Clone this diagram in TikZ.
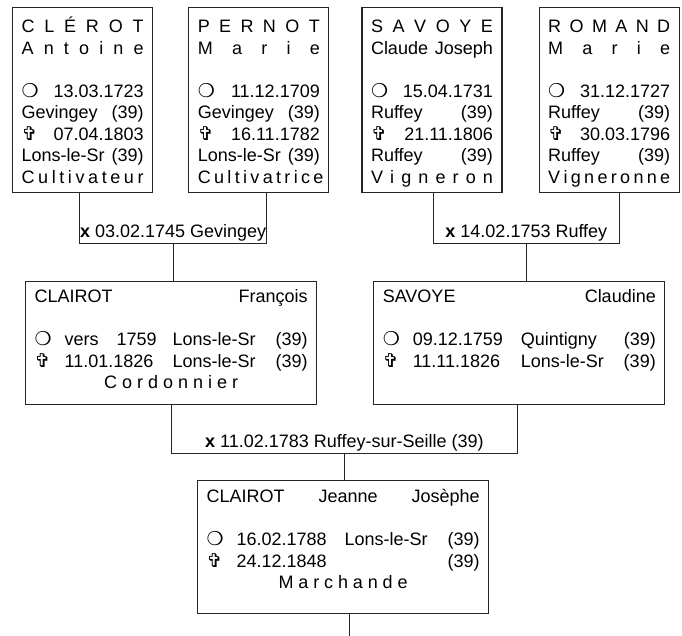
\documentclass[tikz,border=0pt]{standalone}
\usepackage{fontspec}
\setmainfont{Liberation Sans}
\newfontfamily\symbfont{DejaVu Sans}
\usetikzlibrary{positioning, calc}

\newcommand{\nais}{{\symbfont\fontsize{19}{15}\selectfont ❍}}
\newcommand{\deces}{{\symbfont\fontsize{19}{15}\selectfont ✞}}
\newcommand{\ligne}[1]{\makebox[\linewidth][s]{#1}}
\newcommand{\evt}[3]{\makebox[\linewidth][s]{\makebox[30pt][l]{#1}\makebox[108pt][l]{#2}#3 (39)}}
\newcommand{\fiche}[4]{\parbox[c][#2][t]{#1}{\baselineskip=21.5pt\lineskiplimit=-50pt\rule{0pt}{#3}#4}}

\tikzstyle{personne} = [draw=black!85, line width=1.2pt, anchor=north west,
                        inner xsep=9pt, inner ysep=8pt, font=\fontsize{18}{21.5}\selectfont]
\tikzstyle{lien}     = [draw=black!85, line width=1.2pt]
\tikzstyle{mariage}  = [above, inner sep=1pt, font=\fontsize{18}{21.5}\selectfont]

\begin{document}
\begin{tikzpicture}[x=1pt, y=-1pt]
  \useasboundingbox (0,0) rectangle (682,636);

  % Grands-parents
  \node (clerot) [personne] at (12,7) {\fiche{122pt}{169pt}{17pt}{%
      \ligne{C L É R O T}\\ \ligne{A n t o i n e}\\ \mbox{}\\
      \ligne{\nais{} 13.03.1723}\\ \ligne{Gevingey (39)}\\
      \ligne{\deces{} 07.04.1803}\\ \ligne{Lons-le-Sr (39)}\\
      \ligne{C u l t i v a t e u r}}};
  \node (pernot) [personne, right=35pt of clerot] {\fiche{122pt}{169pt}{17pt}{%
      \ligne{P E R N O T}\\ \ligne{M a r i e}\\ \mbox{}\\
      \ligne{\nais{} 11.12.1709}\\ \ligne{Gevingey (39)}\\
      \ligne{\deces{} 16.11.1782}\\ \ligne{Lons-le-Sr (39)}\\
      \ligne{C u l t i v a t r i c e}}};
  \node (savoyecj) [personne, right=32pt of pernot] {\fiche{122pt}{169pt}{17pt}{%
      \ligne{S A V O Y E}\\ \ligne{Claude Joseph}\\ \mbox{}\\
      \ligne{\nais{} 15.04.1731}\\ \ligne{Ruffey (39)}\\
      \ligne{\deces{} 21.11.1806}\\ \ligne{Ruffey (39)}\\
      \ligne{V i g n e r o n}}};
  \node (romand) [personne, right=36pt of savoyecj] {\fiche{122pt}{169pt}{17pt}{%
      \ligne{R O M A N D}\\ \ligne{M a r i e}\\ \mbox{}\\
      \ligne{\nais{} 31.12.1727}\\ \ligne{Ruffey (39)}\\
      \ligne{\deces{} 30.03.1796}\\ \ligne{Ruffey (39)}\\
      \ligne{V i g n e r o n n e}}};

  % Parents
  \node (clairot) [personne] at (25,281) {\fiche{273pt}{107pt}{13pt}{%
      \ligne{CLAIROT François}\\ \mbox{}\\
      \evt{\nais}{\makebox[92pt][s]{vers 1759}}{Lons-le-Sr}\\
      \evt{\deces}{11.01.1826}{Lons-le-Sr}\\
      \makebox[\linewidth][c]{\makebox[134pt][s]{C o r d o n n i e r}}}};
  \node (savoye) [personne, right=56pt of clairot] {\fiche{273pt}{107pt}{13pt}{%
      \ligne{SAVOYE Claudine}\\ \mbox{}\\
      \evt{\nais}{09.12.1759}{Quintigny}\\
      \evt{\deces}{11.11.1826}{Lons-le-Sr}}};

  % Enfant
  \node (jeanne) [personne] at (197,480) {\fiche{273pt}{117pt}{14pt}{%
      \ligne{CLAIROT Jeanne Josèphe}\\ \mbox{}\\
      \evt{\nais}{16.02.1788}{Lons-le-Sr}\\
      \evt{\deces}{24.12.1848}{}\\
      \makebox[\linewidth][c]{\makebox[129pt][s]{M a r c h a n d e}}}};

  % Mariages
  \draw[lien] ([xshift=-3pt]clerot.south) -- ++(0,50)
      -| node[mariage, pos=0.25]{\textbf{x} 03.02.1745 Gevingey}
         coordinate[pos=0.25] (m1) ([xshift=8pt]pernot.south);
  \draw[lien] (m1) -- (m1 |- clairot.north);

  \draw[lien] ([xshift=1.5pt]savoyecj.south) -- ++(0,50)
      -| node[mariage, pos=0.25]{\textbf{x} 14.02.1753 Ruffey}
         coordinate[pos=0.25] (m2) ([xshift=10pt]romand.south);
  \draw[lien] (m2) -- (m2 |- savoye.north);

  \draw[lien] (clairot.south) -- ++(0,48)
      -| node[mariage, pos=0.25]{\textbf{x} 11.02.1783 Ruffey-sur-Seille (39)}
         coordinate[pos=0.25] (m3) ([xshift=-1.5pt]savoye.south);
  \draw[lien] (m3) -- (m3 |- jeanne.north);

  \draw[lien] ([xshift=6.5pt]jeanne.south) -- ++(0,23);

\end{tikzpicture}
\end{document}
